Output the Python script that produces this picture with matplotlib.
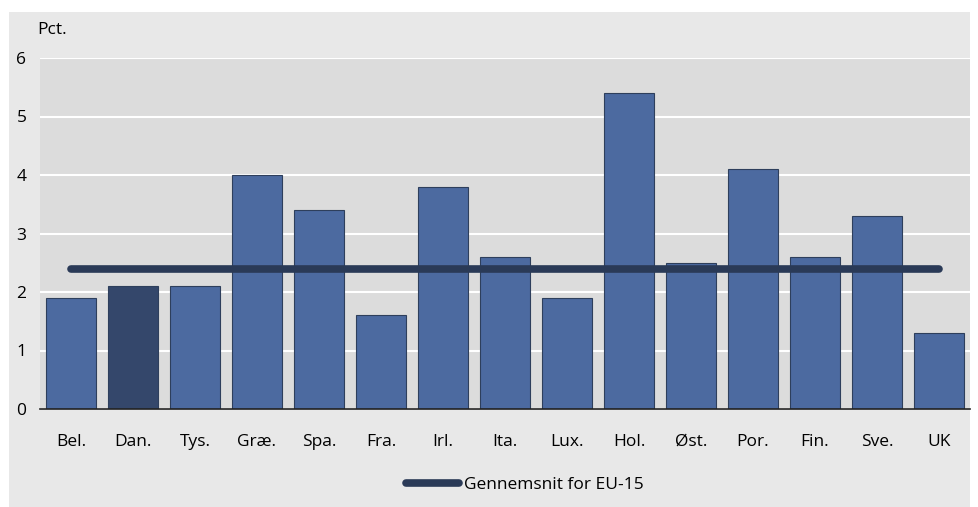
import matplotlib.pyplot as plt
from matplotlib.patches import Rectangle
from matplotlib.lines import Line2D

plt.rcParams['font.family'] = ['Open Sans', 'DejaVu Sans']

lande = ['Bel.', 'Dan.', 'Tys.', 'Græ.', 'Spa.', 'Fra.', 'Irl.', 'Ita.', 'Lux.',
         'Hol.', 'Øst.', 'Por.', 'Fin.', 'Sve.', 'UK']
vaerdier = [1.9, 2.1, 2.1, 4.0, 3.4, 1.6, 3.8, 2.6, 1.9, 5.4, 2.5, 4.1, 2.6, 3.3, 1.3]
eu15 = 2.4

fig = plt.figure(figsize=(9.79, 5.07), dpi=100)
fig.patch.set_facecolor('white')
bg = Rectangle((9 / 979, 0), 961 / 979, 495 / 507, transform=fig.transFigure,
               facecolor='#e8e8e8', edgecolor='none', zorder=-10)
fig.add_artist(bg)

ax = fig.add_axes([40 / 979, 98 / 507, 930 / 979, 351 / 507])
ax.set_facecolor('#dcdcdc')

x = list(range(len(lande)))
farver = ['#34476b' if l == 'Dan.' else '#4c6aa0' for l in lande]
ax.bar(x, vaerdier, width=0.82, color=farver, edgecolor='#2e3f5c', linewidth=0.8, zorder=2)
ax.plot([x[0], x[-1]], [eu15, eu15], color='#2a3a57', linewidth=5.5,
        solid_capstyle='round', zorder=3)

ax.set_xlim(-0.5, len(lande) - 0.5)
ax.set_ylim(0, 6)
ax.set_yticks(range(0, 7))
ax.yaxis.grid(True, color='white', linewidth=1.5)
ax.set_axisbelow(True)
for s in ['top', 'right', 'left']:
    ax.spines[s].set_visible(False)
ax.spines['bottom'].set_color('#222222')
ax.spines['bottom'].set_linewidth(1.2)
ax.spines['bottom'].set_zorder(4)
ax.set_xticks(x)
ax.set_xticklabels(lande, fontsize=12.5)
ax.tick_params(axis='x', length=0, pad=18)
ax.tick_params(axis='y', length=0, pad=17, labelsize=12.5)
for lbl in ax.get_yticklabels():
    lbl.set_horizontalalignment('left')

fig.text(37 / 979, 1 - 30 / 507, 'Pct.', fontsize=12.5, va='center', ha='left')

handle = Line2D([], [], color='#2a3a57', linewidth=5.5, solid_capstyle='round')
fig.legend([handle], ['Gennemsnit for EU-15'], loc='center', bbox_to_anchor=(525 / 979, 1 - 485 / 507),
           frameon=False, fontsize=12.5, handlelength=3.0, handletextpad=0.3)

fig.savefig('out.png', dpi=100)
